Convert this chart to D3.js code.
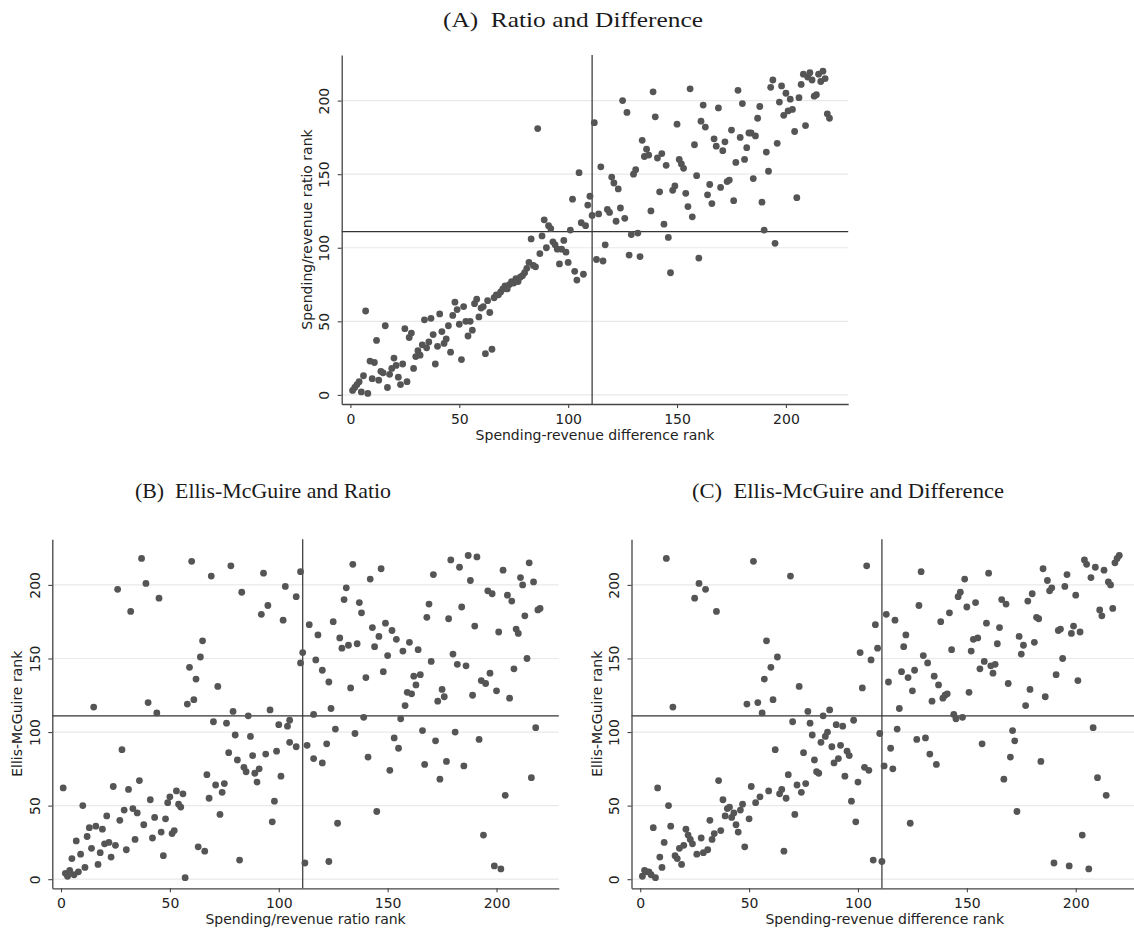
<!DOCTYPE html>
<html>
<head>
<meta charset="utf-8">
<script src="https://cdn.jsdelivr.net/npm/d3@7"></script>
<style>
  body { margin: 0; background: #fff; }
  svg { display: block; }
</style>
</head>
<body>
<svg id="chart" width="1134" height="930"></svg>
<script>
// Panel A: spending-revenue difference rank vs spending/revenue ratio rank
const diffRankA = [1,2,3,4,5,6,7,8,9,10,11,12,13,14,15,16,17,18,19,20,21,22,23,24,25,26,27,28,29,30,
  31,32,33,34,35,36,37,38,39,40,41,42,43,44,45,46,47,48,49,50,51,52,53,54,55,56,57,58,59,60,
  61,62,63,64,65,66,67,68,69,70,71,72,73,74,75,76,77,78,79,80,81,82,83,84,85,86,87,88,89,90,
  91,92,93,94,95,96,97,98,99,100,101,102,103,104,105,106,107,108,109,110,
  111,112,113,114,115,116,117,118,119,120,121,122,123,124,125,126,127,128,129,130,
  131,132,133,134,135,136,137,138,139,140,141,142,143,144,145,146,147,148,149,150,
  151,152,153,154,155,156,157,158,159,160,161,162,163,164,165,166,167,168,169,170,
  171,172,173,174,175,176,177,178,179,180,181,182,183,184,185,186,187,188,189,190,
  191,192,193,194,195,196,197,198,199,200,201,202,203,204,205,206,207,208,209,210,
  211,212,213,214,215,216,217,218,219,220];
const ratioRankA = [3,5,7,9,2,13,57,1,23,11,22,37,10,16,15,47,5,14,18,25,20,12,7,21,45,9,39,42,18,26,
  30,27,34,51,32,36,52,41,21,33,55,43,35,38,47,29,54,63,58,48,24,60,50,40,50,44,62,65,53,59,
  60,28,64,56,31,66,68,68,70,72,74,72,75,77,76,79,77,80,81,83,86,90,106,88,87,181,96,108,119,100,
  115,113,104,102,99,89,99,105,97,90,112,133,84,78,151,117,82,115,129,135,
  122,185,92,123,155,91,102,126,124,148,144,118,140,127,200,120,192,95,109,150,
  153,110,94,173,162,167,163,125,206,189,161,138,164,116,156,107,83,139,142,184,
  160,157,154,137,128,208,121,170,149,93,186,197,182,136,143,130,174,169,195,141,
  166,172,145,146,180,132,158,207,175,198,160,168,178,178,147,176,188,196,131,112,
  165,152,209,214,103,171,199,210,190,205,193,201,194,179,134,202,211,218,183,216,
  219,214,203,204,218,213,220,215,191,188];

// Panel B: spending/revenue ratio rank vs Ellis-McGuire rank
const ratioRankB = [1,2,3,3,4,5,6,7,8,9,10,11,12,13,14,15,16,17,18,19,20,21,22,23,24,25,26,27,28,29,
  30,31,32,33,34,35,36,37,38,39,40,41,42,43,44,45,46,47,48,49,50,51,52,53,54,55,56,57,58,59,
  60,61,62,63,64,65,66,67,68,69,70,71,72,73,74,75,76,77,78,79,80,81,82,83,84,85,86,87,88,89,
  90,91,92,93,94,95,96,97,98,99,100,101,102,103,104,105,105,108,108,110,110,111,112,113,114,116,
  116,117,118,120,120,122,123,123,124,125,126,127,128,129,130,131,132,133,134,135,
  136,137,138,139,140,141,142,143,144,145,146,147,148,149,150,151,152,153,154,155,
  156,157,158,159,160,161,162,163,164,165,166,167,168,169,170,171,172,173,174,175,
  176,177,178,179,180,181,182,183,184,185,186,187,188,189,190,191,192,193,194,195,
  196,197,198,199,200,201,202,203,204,205,206,207,208,209,210,211,212,213,214,215,
  216,217,218,219,220];
const emRankB = [62,4,3,2,6,14,3,26,5,17,50,8,29,35,21,117,36,10,18,34,24,43,25,15,63,23,197,40,88,47,
  20,61,182,48,27,45,67,218,37,201,120,54,28,42,113,191,32,16,41,52,56,31,33,60,51,49,58,1,119,144,
  216,122,136,22,151,162,19,71,55,206,107,64,131,44,59,65,106,86,213,114,98,81,13,195,76,73,111,97,84,72,
  66,75,180,208,85,186,115,39,53,87,105,70,176,199,104,108,93,192,90,209,147,154,11,91,173,82,
  112,149,166,79,142,92,12,134,116,175,102,38,164,157,190,198,159,130,214,99,
  160,188,181,110,137,83,204,171,158,46,165,211,141,174,152,74,169,96,163,89,
  109,155,118,127,161,126,138,132,156,139,101,78,178,187,148,207,94,121,68,129,
  124,80,177,217,153,100,146,212,185,77,145,220,203,125,172,219,95,135,30,133,
  196,140,194,9,128,168,7,210,57,193,123,189,143,170,167,205,200,179,150,215,
  69,202,103,183,184];

// Panel C: spending-revenue difference rank vs Ellis-McGuire rank
const diffRankC = [1,2,3,4,5,6,7,8,9,10,11,12,13,14,15,16,17,18,19,20,21,22,23,24,25,26,27,28,29,30,
  31,32,33,34,35,36,37,38,39,40,41,42,43,44,45,46,47,48,49,50,51,52,53,54,55,56,57,58,59,60,
  61,62,63,64,65,66,67,68,69,70,71,72,73,74,75,76,77,78,79,80,81,82,83,84,85,86,87,88,89,90,
  91,92,93,94,95,96,97,98,99,100,101,102,103,104,105,106,107,108,109,110,
  111,112,113,114,115,116,117,118,119,120,121,122,123,124,125,126,127,128,129,130,
  131,132,133,134,135,136,137,138,139,140,141,142,143,144,145,146,147,148,149,150,
  151,152,153,154,155,156,157,158,159,160,161,162,163,164,165,166,167,168,169,170,
  171,172,173,174,175,176,177,178,179,180,181,182,183,184,185,186,187,188,189,190,
  191,192,193,194,195,196,197,198,199,200,201,202,203,204,205,206,207,208,209,210,
  211,212,213,214,215,216,217,218,219,220];
const emRankC = [2,6,5,5,3,35,1,62,15,8,25,218,50,36,117,16,14,21,10,23,34,30,27,24,191,17,201,28,18,197,
  20,40,27,31,182,67,33,54,43,48,49,42,45,37,32,47,51,22,119,41,63,216,52,120,56,113,136,162,60,144,
  122,88,151,58,61,19,55,71,206,107,44,64,131,59,86,65,114,106,98,81,73,72,93,111,97,100,115,90,79,105,
  82,91,104,70,87,84,53,108,39,66,154,130,76,213,74,149,13,173,157,99,
  12,77,180,134,89,75,176,102,116,141,158,166,137,38,128,142,95,186,209,152,
  96,147,85,121,138,78,132,175,123,125,126,181,156,112,109,192,195,110,204,185,
  127,155,163,188,164,143,92,148,174,208,145,140,146,160,171,190,68,187,133,83,
  101,94,46,165,153,159,118,189,129,194,161,178,177,80,211,124,203,196,198,11,
  139,169,170,150,199,207,9,167,172,193,135,168,30,217,214,7,205,103,212,69,
  183,179,210,57,202,200,184,215,218,220];

const rankTicks = [0, 50, 100, 150, 200];
const medianRank = 111;

const panels = [
  {title: "(A)\u00a0 Ratio and Difference", xs: diffRankA, ys: ratioRankA,
   xLabel: "Spending-revenue difference rank", yLabel: "Spending/revenue ratio rank"},
  {title: "(B)\u00a0 Ellis-McGuire and Ratio", xs: ratioRankB, ys: emRankB,
   xLabel: "Spending/revenue ratio rank", yLabel: "Ellis-McGuire rank"},
  {title: "(C)\u00a0 Ellis-McGuire and Difference", xs: diffRankC, ys: emRankC,
   xLabel: "Spending-revenue difference rank", yLabel: "Ellis-McGuire rank"}
];

// layout (pixels)
const layout = [
  {left: 341.7, top: 55, titleX: 573, titleY: 27, titleW: 260},
  {left: 52.3, top: 539.3, titleX: 263, titleY: 498, titleW: 256},
  {left: 631.5, top: 539.3, titleX: 848, titleY: 498, titleW: 312}
];
const W = 506.5, H = 349;

const svg = d3.select("#chart");
svg.append("rect").attr("width", 1134).attr("height", 930).attr("fill", "#fff");

const x = d3.scaleLinear().domain([-4, 228.6]).range([0, W]);
const y = d3.scaleLinear().domain([-6.2, 231]).range([H, 0]);

const drawPanel = (p, l) => {
    svg.append("text")
        .attr("x", l.titleX).attr("y", l.titleY)
        .attr("text-anchor", "middle")
        .attr("font-family", "'Liberation Serif', 'DejaVu Serif', serif")
        .attr("font-size", 21)
        .attr("fill", "#1a1a1a")
        .attr("textLength", l.titleW)
        .attr("lengthAdjust", "spacingAndGlyphs")
        .text(p.title);

    let g = svg.append("g").attr("transform", `translate(${l.left},${l.top})`);

    // gridlines
    g.selectAll("line.grid").data(rankTicks).enter()
        .append("line")
        .attr("class", "grid")
        .attr("x1", 0).attr("x2", W)
        .attr("y1", d => y(d)).attr("y2", d => y(d))
        .attr("stroke", "#e9e9e9").attr("stroke-width", 1.2);

    // median lines
    g.append("line")
        .attr("x1", x(medianRank)).attr("x2", x(medianRank))
        .attr("y1", 0).attr("y2", H)
        .attr("stroke", "#333").attr("stroke-width", 1.2);
    g.append("line")
        .attr("x1", 0).attr("x2", W)
        .attr("y1", y(medianRank)).attr("y2", y(medianRank))
        .attr("stroke", "#333").attr("stroke-width", 1.2);

    // points
    g.selectAll("circle").data(p.xs.map((v, i) => [v, p.ys[i]])).enter()
        .append("circle")
        .attr("cx", d => x(d[0]))
        .attr("cy", d => y(d[1]))
        .attr("r", 3.4)
        .attr("fill", "#555");

    // axes
    let xAxis = g.append("g").attr("transform", `translate(0,${H})`)
        .call(d3.axisBottom(x).tickValues(rankTicks).tickSize(4).tickSizeOuter(0).tickPadding(6));
    let yAxis = g.append("g")
        .call(d3.axisLeft(y).tickValues(rankTicks).tickSize(4).tickSizeOuter(0));
    [xAxis, yAxis].forEach(a => {
        a.select(".domain").attr("stroke", "#444").attr("stroke-width", 1.3);
        a.selectAll(".tick line").attr("stroke", "#444").attr("stroke-width", 1.1);
        a.selectAll("text")
            .attr("font-family", "'DejaVu Sans', sans-serif")
            .attr("font-size", 14)
            .attr("fill", "#222");
    });
    yAxis.selectAll(".tick text")
        .attr("transform", "rotate(-90)")
        .attr("x", 0).attr("y", -12.4).attr("dy", 0)
        .attr("text-anchor", "middle");

    g.append("text")
        .attr("x", W / 2).attr("y", H + 35.7)
        .attr("text-anchor", "middle")
        .attr("font-family", "'DejaVu Sans', sans-serif")
        .attr("font-size", 14).attr("fill", "#222")
        .text(p.xLabel);
    g.append("text")
        .attr("transform", `translate(-30,${H / 2}) rotate(-90)`)
        .attr("text-anchor", "middle")
        .attr("font-family", "'DejaVu Sans', sans-serif")
        .attr("font-size", 14).attr("fill", "#222")
        .text(p.yLabel);
}

panels.forEach((p, i) => drawPanel(p, layout[i]));
</script>
</body>
</html>
